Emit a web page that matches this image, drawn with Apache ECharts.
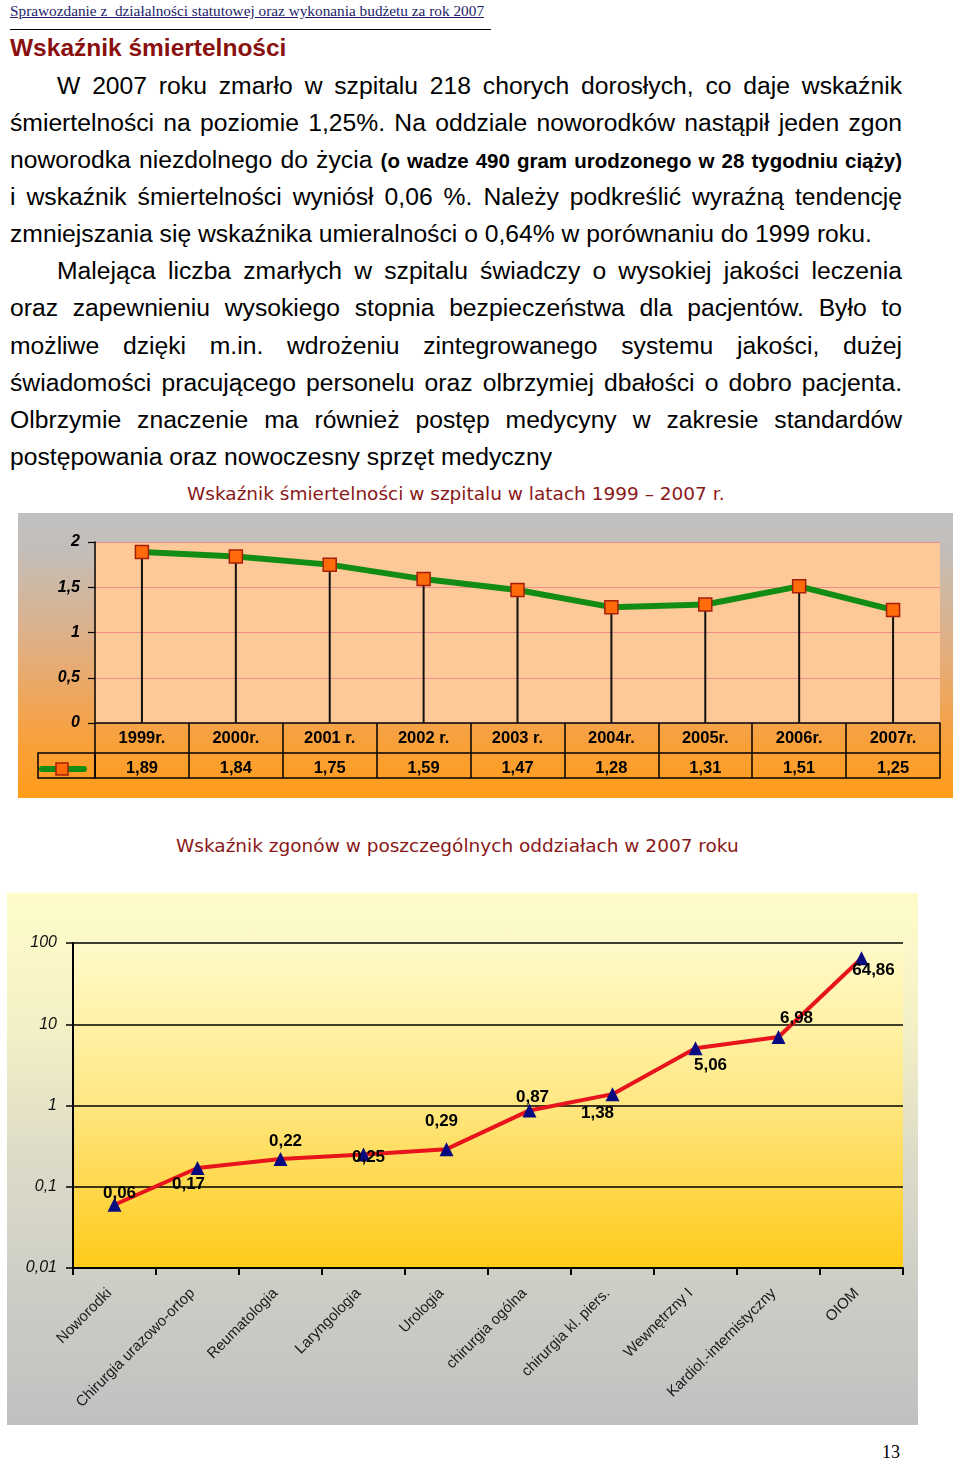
<!DOCTYPE html>
<html>
<head>
<meta charset="utf-8">
<script src="https://cdn.jsdelivr.net/npm/echarts@6/dist/echarts.min.js"></script>
<style>
  html, body { margin:0; padding:0; background:#fff; }
  body { width:960px; height:1461px; position:relative; overflow:hidden; font-family:"Liberation Sans", Arial, sans-serif; }
  .abs { position:absolute; white-space:nowrap; }
  .hdr { left:10px; top:2px; font-family:"Liberation Serif","Times New Roman",serif; font-size:15.3px; color:#1c1c6a; text-decoration:underline; }
  .rule { left:10px; top:29px; width:481px; height:0; border-top:1.6px solid #000; }
  .h1 { left:10px; top:33px; font-size:24.5px; font-weight:bold; color:#8a0f0f; line-height:30px; }
  .ln { left:10px; width:892px; font-size:24.7px; line-height:30px; color:#000; }
  .j { text-align:justify; text-align-last:justify; }
  .ind { left:57px; width:845px; }
  .sm { font-size:20.5px; font-weight:bold; }
  .ct { font-family:"DejaVu Sans", sans-serif; color:#8a1818; }
  .pg { left:882px; top:1442px; font-family:"Liberation Serif","Times New Roman",serif; font-size:18px; }
  #c1 { position:absolute; left:18px; top:513px; width:935px; height:285px;
        background:linear-gradient(to bottom,#c0c0c0 0%,#c3bebb 12%,#e4ad7c 50%,#f8a03c 80%,#ff9c18 100%); }
  #c2 { position:absolute; left:7px; top:893px; width:911px; height:532px;
        background:linear-gradient(to bottom,#fffcca 0%,#f4f0c6 25%,#dddbc8 50%,#cdcdc6 75%,#c0c0c0 100%); }
</style>
</head>
<body>
<div class="abs hdr">Sprawozdanie z&nbsp; działalności statutowej oraz wykonania budżetu za rok 2007</div>
<div class="abs rule"></div>
<div class="abs h1">Wskaźnik śmiertelności</div>

<div class="abs ln j ind" style="top:71px">W 2007 roku zmarło w szpitalu 218 chorych dorosłych, co daje wskaźnik</div>
<div class="abs ln j" style="top:108px">śmiertelności na poziomie 1,25%. Na oddziale noworodków nastąpił jeden zgon</div>
<div class="abs ln j" style="top:145px">noworodka niezdolnego do życia <span class="sm">(o wadze 490 gram urodzonego w 28 tygodniu ciąży)</span></div>
<div class="abs ln j" style="top:182px">i wskaźnik śmiertelności wyniósł 0,06 %. Należy podkreślić wyraźną tendencję</div>
<div class="abs ln" style="top:219px">zmniejszania się wskaźnika umieralności o 0,64% w porównaniu do 1999 roku.</div>
<div class="abs ln j ind" style="top:256px">Malejąca liczba zmarłych w szpitalu świadczy o wysokiej jakości leczenia</div>
<div class="abs ln j" style="top:293px">oraz zapewnieniu wysokiego stopnia bezpieczeństwa dla pacjentów. Było to</div>
<div class="abs ln j" style="top:331px">możliwe dzięki m.in. wdrożeniu zintegrowanego systemu jakości, dużej</div>
<div class="abs ln j" style="top:368px">świadomości pracującego personelu oraz olbrzymiej dbałości o dobro pacjenta.</div>
<div class="abs ln j" style="top:405px">Olbrzymie znaczenie ma również postęp medycyny w zakresie standardów</div>
<div class="abs ln" style="top:442px">postępowania oraz nowoczesny sprzęt medyczny</div>

<div class="abs ct" style="left:187px; top:483px; font-size:18.5px;">Wskaźnik śmiertelności w szpitalu w latach 1999 – 2007 r.</div>
<div id="c1"></div>

<div class="abs ct" style="left:176px; top:835px; font-size:18.5px;">Wskaźnik zgonów w poszczególnych oddziałach w 2007 roku</div>
<div id="c2"></div>

<div class="abs pg">13</div>

<script>
// ---------- data ----------
const years = ['1999r.', '2000r.', '2001 r.', '2002 r.', '2003 r.', '2004r.', '2005r.', '2006r.', '2007r.'];
const mortality = [1.89, 1.84, 1.75, 1.59, 1.47, 1.28, 1.31, 1.51, 1.25];
const mortalityTicks = [0, 0.5, 1, 1.5, 2];

const wards = ['Noworodki', 'Chirurgia urazowo-ortop', 'Reumatologia', 'Laryngologia', 'Urologia',
  'chirurgia ogólna', 'chirurgia kl. piers.', 'Wewnętrzny I', 'Kardiol.-internistyczny', 'OIOM'];
const wardRates = [0.06, 0.17, 0.22, 0.25, 0.29, 0.87, 1.38, 5.06, 6.98, 64.86];
const wardTicks = [0.01, 0.1, 1, 10, 100];

// label placement (style only)
const wardLabelOffsets = [[5, -11], [-9, 16], [5, -18], [5, 3], [-5, -28], [3, -13], [-15, 19], [15, 17], [18, -19], [12, 12]];

const comma = v => String(v).replace('.', ',');
const fmt2 = v => v.toFixed(2).replace('.', ',');

// ---------- chart 1 ----------
const c1 = echarts.init(document.getElementById('c1'), null, { renderer: 'canvas' });
const boldLbl = { color: '#000', fontWeight: 'bold', fontSize: 16.5, fontFamily: 'Liberation Sans, Arial, sans-serif' };
c1.setOption({
  animation: false,
  grid: { left: 77, top: 29, width: 845, height: 181, show: true, backgroundColor: '#fdc998', borderWidth: 0 },
  graphic: [
    { type: 'rect', shape: { x: 20, y: 240, width: 57, height: 25 },
      style: { fill: 'none', stroke: '#000', lineWidth: 1.5 }, z: 10 },
    { type: 'line', shape: { x1: 24, y1: 256, x2: 66, y2: 256 },
      style: { stroke: '#138c13', lineWidth: 6, lineCap: 'round' }, z: 10 },
    { type: 'rect', shape: { x: 38, y: 250, width: 12, height: 12 },
      style: { fill: '#ff6a0a', stroke: '#a5200a', lineWidth: 1.5 }, z: 11 }
  ],
  xAxis: [
    {
      type: 'category', data: years, position: 'bottom', boundaryGap: true,
      axisLine: { show: true, lineStyle: { color: '#000', width: 1.5 } },
      axisTick: { show: true, interval: 0, length: 55, lineStyle: { color: '#000', width: 1.5 } },
      axisLabel: Object.assign({ interval: 0, margin: 7 }, boldLbl),
      splitLine: { show: false }
    },
    {
      type: 'category', data: years, position: 'bottom', offset: 30, boundaryGap: true,
      axisLine: { show: true, lineStyle: { color: '#000', width: 1.5 } },
      axisTick: { show: false },
      axisLabel: Object.assign({ interval: 0, margin: 7, formatter: (v, i) => fmt2(mortality[i]) }, boldLbl)
    },
    {
      type: 'category', data: years, position: 'bottom', offset: 55, boundaryGap: true,
      axisLine: { show: true, lineStyle: { color: '#000', width: 1.5 } },
      axisTick: { show: false }, axisLabel: { show: false }
    }
  ],
  yAxis: {
    type: 'value', min: mortalityTicks[0], max: mortalityTicks[mortalityTicks.length - 1], interval: 0.5,
    axisLine: { show: true, lineStyle: { color: '#000', width: 1.5 } },
    axisTick: { show: true, length: 7, lineStyle: { color: '#000', width: 1.2 } },
    axisLabel: { color: '#000', fontWeight: 'bold', fontStyle: 'italic', fontSize: 16, margin: 15,
      fontFamily: 'Liberation Sans, Arial, sans-serif', formatter: v => comma(v) },
    splitLine: { show: true, lineStyle: { color: '#f08c8c', width: 1.2 } }
  },
  series: [
    {
      type: 'bar', data: mortality, barWidth: 2, xAxisIndex: 0,
      itemStyle: { color: '#111' }, z: 1, silent: true
    },
    {
      name: 'wskaźnik', type: 'line', data: mortality, xAxisIndex: 0, z: 5,
      symbol: 'rect', symbolSize: 13,
      lineStyle: { color: '#138c13', width: 6 },
      itemStyle: { color: '#ff6a0a', borderColor: '#a5200a', borderWidth: 1.5 },
      label: { show: false }
    }
  ]
});

// ---------- chart 2 ----------
const c2 = echarts.init(document.getElementById('c2'), null, { renderer: 'canvas' });
c2.setOption({
  animation: false,
  grid: {
    left: 66, top: 50, width: 830, height: 325, show: true, borderWidth: 0,
    backgroundColor: { type: 'linear', x: 0, y: 0, x2: 0, y2: 1,
      colorStops: [{ offset: 0, color: '#fffbc9' }, { offset: 0.45, color: '#ffe98a' }, { offset: 1, color: '#ffca18' }] }
  },
  xAxis: {
    type: 'category', data: wards, boundaryGap: true,
    axisLine: { show: true, lineStyle: { color: '#000', width: 2 } },
    axisTick: { show: true, interval: 0, length: 7, lineStyle: { color: '#000', width: 2 } },
    axisLabel: { interval: 0, rotate: 45, margin: 18, padding: [0, 7, 0, 0], color: '#1a1a1a', fontSize: 15,
      fontFamily: 'Liberation Sans, Arial, sans-serif' }
  },
  yAxis: {
    type: 'log', logBase: 10, min: wardTicks[0], max: wardTicks[wardTicks.length - 1],
    axisLine: { show: true, lineStyle: { color: '#000', width: 2 } },
    axisTick: { show: true, length: 7, lineStyle: { color: '#000', width: 1.5 } },
    axisLabel: { color: '#111', fontStyle: 'italic', fontSize: 16, margin: 16,
      fontFamily: 'Liberation Sans, Arial, sans-serif',
      formatter: v => comma(+Number(v).toPrecision(3)) },
    splitLine: { show: true, lineStyle: { color: '#000', width: 1.5 } }
  },
  series: [{
    type: 'line',
    data: wardRates.map((v, i) => ({ value: v, label: { offset: wardLabelOffsets[i] } })),
    symbol: 'triangle', symbolSize: 14,
    lineStyle: { color: '#e8141c', width: 4 },
    itemStyle: { color: '#0a0a80' },
    label: { show: true, position: 'inside', color: '#000', fontWeight: 'bold', fontSize: 17,
      fontFamily: 'Liberation Sans, Arial, sans-serif', formatter: p => fmt2(p.value) },
    z: 5
  }]
});
</script>
</body>
</html>
